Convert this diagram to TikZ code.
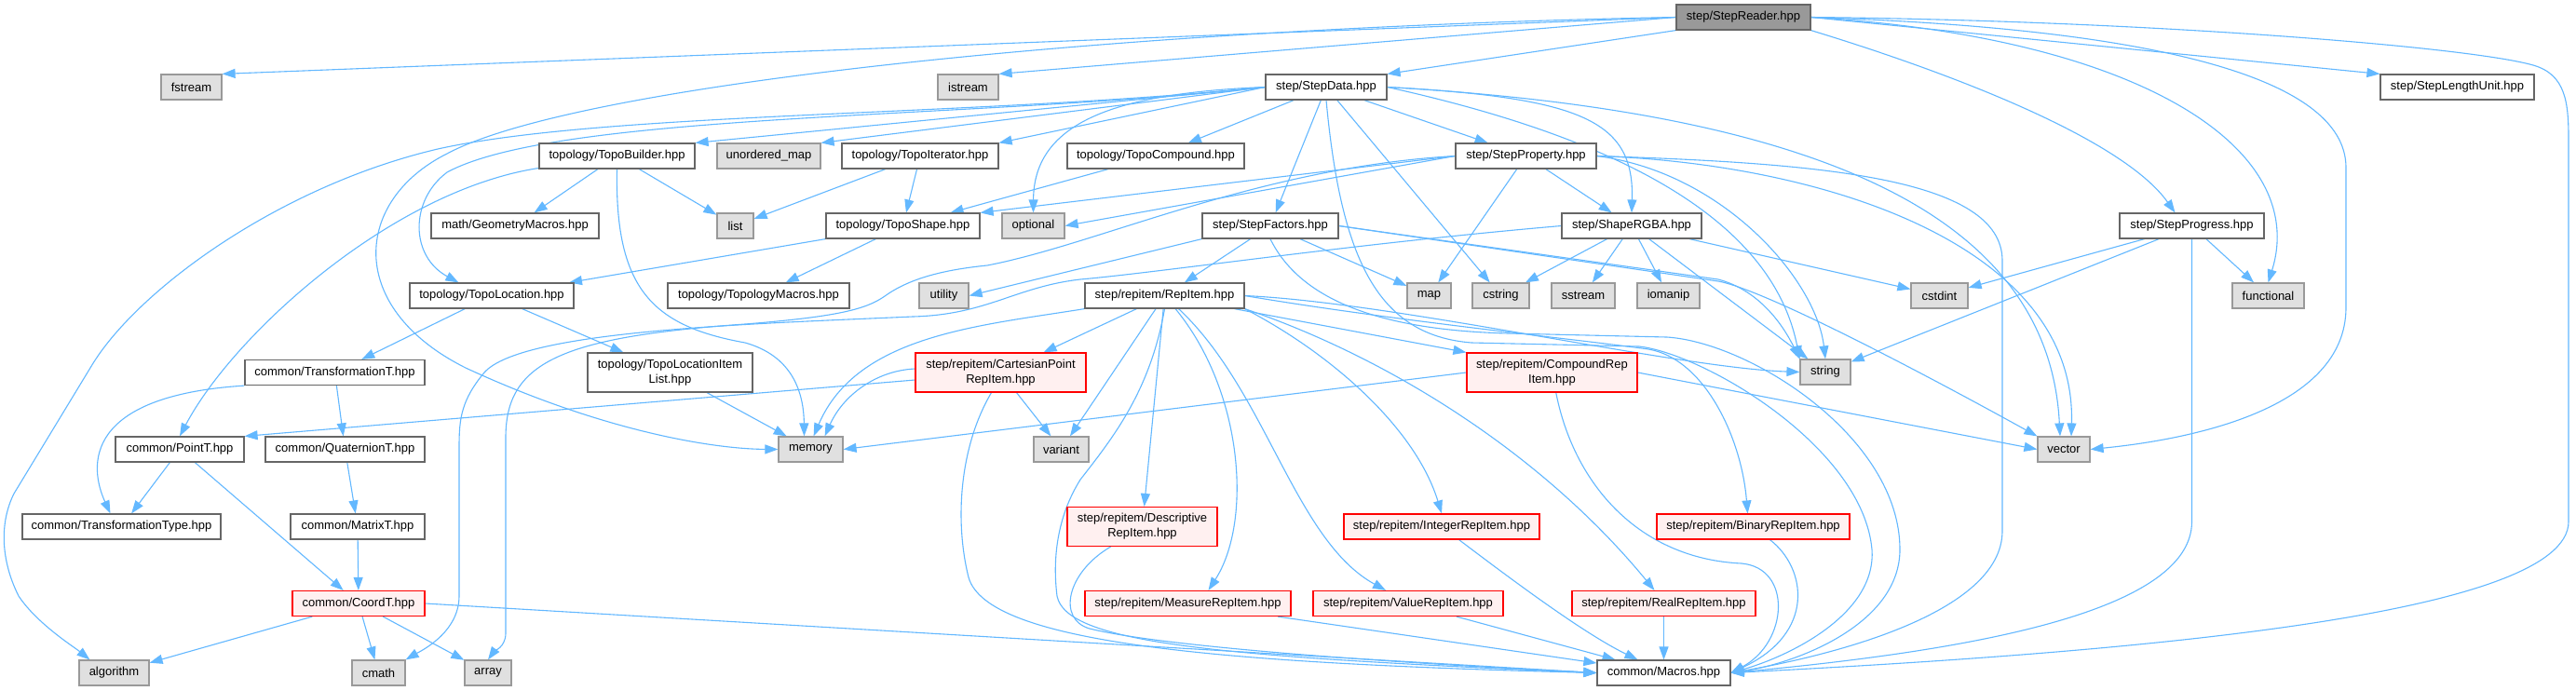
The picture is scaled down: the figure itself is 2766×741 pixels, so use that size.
\documentclass[tikz,border=0pt]{standalone}
\usepackage{fontspec}
\setmainfont{Liberation Sans}
\usetikzlibrary{arrows.meta,backgrounds}
\definecolor{edgec}{HTML}{63B8FF}
\definecolor{gfill}{HTML}{E0E0E0}
\definecolor{gborder}{HTML}{999999}
\definecolor{wborder}{HTML}{666666}
\definecolor{rfill}{HTML}{FFF0F0}
\definecolor{rootfill}{HTML}{999999}
\begin{document}
\begin{tikzpicture}[x=0.5pt,y=-0.5pt,
  gbox/.style={draw,rectangle,inner sep=0pt,minimum height=13.5pt,line width=0.6pt,align=center,font=\fontsize{6.5}{8}\selectfont},
  plainbox/.style={gbox,draw=wborder,fill=white},
  sysbox/.style={gbox,draw=gborder,fill=gfill},
  redbox/.style={gbox,draw=red,fill=rfill},
  rootbox/.style={gbox,draw=wborder,fill=rootfill},
  tall/.style={minimum height=21pt},
  lnk/.style={draw=edgec,line width=0.55pt,-{Triangle[length=7pt,width=5pt]}}
]
\useasboundingbox (0,0) rectangle (2766,741);
% nodes
\node[rootbox,minimum width=72pt] (root) at (1872,18.5) {step/StepReader.hpp};
\node[sysbox,minimum width=32.5pt] (fstream) at (205.5,93.5) {fstream};
\node[sysbox,minimum width=32.5pt] (istream) at (1039.5,93.5) {istream};
\node[plainbox,minimum width=65pt] (sdata) at (1424,93.5) {step/StepData.hpp};
\node[plainbox,minimum width=82.5pt] (slu) at (2638.5,93.5) {step/StepLengthUnit.hpp};
\node[plainbox,minimum width=83.5pt] (tbuild) at (662.5,167.5) {topology/TopoBuilder.hpp};
\node[sysbox,minimum width=55.5pt] (umap) at (825.5,167.5) {unordered\_map};
\node[plainbox,minimum width=84pt] (titer) at (988,167.5) {topology/TopoIterator.hpp};
\node[plainbox,minimum width=95pt] (tcomp) at (1241,167.5) {topology/TopoCompound.hpp};
\node[plainbox,minimum width=75.5pt] (sprop) at (1638.5,167.5) {step/StepProperty.hpp};
\node[plainbox,minimum width=90pt] (geom) at (553,242.5) {math/GeometryMacros.hpp};
\node[sysbox,minimum width=19.5pt] (list) at (789.5,242.5) {list};
\node[plainbox,minimum width=82.5pt] (tshape) at (969.5,242.5) {topology/TopoShape.hpp};
\node[sysbox,minimum width=33.5pt] (optional) at (1109.5,242.5) {optional};
\node[plainbox,minimum width=73pt] (sfact) at (1364,242.5) {step/StepFactors.hpp};
\node[plainbox,minimum width=75pt] (rgba) at (1752,242.5) {step/ShapeRGBA.hpp};
\node[plainbox,minimum width=77.5pt] (sprog) at (2353.5,242.5) {step/StepProgress.hpp};
\node[plainbox,minimum width=88pt] (tloc) at (528,317.5) {topology/TopoLocation.hpp};
\node[plainbox,minimum width=97.5pt] (tmacros) at (814.5,317.5) {topology/TopologyMacros.hpp};
\node[sysbox,minimum width=26.5pt] (utility) at (1013.5,317.5) {utility};
\node[plainbox,minimum width=85.5pt] (repitem) at (1250.5,317.5) {step/repitem/RepItem.hpp};
\node[sysbox,minimum width=23.5pt] (map) at (1534.5,317.5) {map};
\node[sysbox,minimum width=30.5pt] (cstring) at (1611.5,317.5) {cstring};
\node[sysbox,minimum width=34pt] (sstream) at (1700,317.5) {sstream};
\node[sysbox,minimum width=33.5pt] (iomanip) at (1791.5,317.5) {iomanip};
\node[sysbox,minimum width=30.5pt] (cstdint) at (2082.5,317.5) {cstdint};
\node[sysbox,minimum width=38.5pt] (functional) at (2435.5,317.5) {functional};
\node[plainbox,minimum width=96.5pt] (transT) at (359.5,400) {common/TransformationT.hpp};
\node[plainbox,tall,minimum width=88.5pt] (tlil) at (719.5,400) {topology/TopoLocationItem\\List.hpp};
\node[redbox,tall,minimum width=91.5pt] (cart) at (1074.5,400) {step/repitem/CartesianPoint\\RepItem.hpp};
\node[redbox,tall,minimum width=91.5pt] (cpd) at (1666.5,400) {step/repitem/CompoundRep\\Item.hpp};
\node[sysbox,minimum width=27pt] (string) at (1960,399.5) {string};
\node[plainbox,minimum width=69pt] (pointT) at (193,482.5) {common/PointT.hpp};
\node[plainbox,minimum width=85.5pt] (quatT) at (370.5,482.5) {common/QuaternionT.hpp};
\node[sysbox,minimum width=34.5pt] (memory) at (870.5,482.5) {memory};
\node[sysbox,minimum width=29.5pt] (variant) at (1139.5,482.5) {variant};
\node[sysbox,minimum width=28pt] (vector) at (2216,482.5) {vector};
\node[plainbox,minimum width=106.5pt] (transType) at (130.5,565.5) {common/TransformationType.hpp};
\node[plainbox,minimum width=72pt] (matrixT) at (384,565.5) {common/MatrixT.hpp};
\node[redbox,tall,minimum width=80.5pt] (desc) at (1226.5,565.5) {step/repitem/Descriptive\\RepItem.hpp};
\node[redbox,minimum width=105pt] (integer) at (1548,565.5) {step/repitem/IntegerRepItem.hpp};
\node[redbox,minimum width=103.5pt] (binary) at (1882.5,565.5) {step/repitem/BinaryRepItem.hpp};
\node[redbox,minimum width=71pt] (coordT) at (385,648) {common/CoordT.hpp};
\node[redbox,minimum width=110.5pt] (measure) at (1275.5,648) {step/repitem/MeasureRepItem.hpp};
\node[redbox,minimum width=102pt] (value) at (1512,648) {step/repitem/ValueRepItem.hpp};
\node[redbox,minimum width=98.5pt] (real) at (1786.5,648) {step/repitem/RealRepItem.hpp};
\node[sysbox,minimum width=37.5pt] (algorithm) at (122.5,722.5) {algorithm};
\node[sysbox,minimum width=28.5pt] (cmath) at (406.5,722.5) {cmath};
\node[sysbox,minimum width=25pt] (array) at (524,722.5) {array};
\node[plainbox,minimum width=71.5pt] (macros) at (1786.5,722.5) {common/Macros.hpp};

\begin{pgfonlayer}{background}
\fill[white] (0,0) rectangle (2766,741);
% root
\draw[lnk] (root.west) -- (fstream.north east);
\draw[lnk] (root.west) -- (istream.north east);
\draw[lnk] (root.south west) -- (sdata.north east);
\draw[lnk] (root.east) -- (slu.north west);
\draw[lnk] (root.south east) .. controls (2100,80) and (2280,150) .. ([xshift=-9pt]sprog.north);
\draw[lnk] (root.east) .. controls (2300,40) and (2480,160) .. (functional.north);
\draw[lnk] (root.east) .. controls (2300,30) and (2519,80) .. (2519,180) -- (2519,330) .. controls (2519,440) and (2350,472) .. (vector.east);
\draw[lnk] (root.east) .. controls (2300,22) and (2650,50) .. (2720,70) .. controls (2755,80) and (2758,110) .. (2758,150) -- (2758,560) .. controls (2758,660) and (2300,700) .. (macros.east);
\draw[lnk] (root.west) .. controls (1200,30) and (620,90) .. (480,165) .. controls (380,215) and (370,330) .. (500,395) .. controls (640,460) and (760,482) .. (memory.west);
% StepData
\draw[lnk] (sdata.west) -- (tbuild.north east);
\draw[lnk] (sdata.west) -- (umap.north east);
\draw[lnk] (sdata.west) -- (titer.north east);
\draw[lnk] (sdata) -- (tcomp);
\draw[lnk] (sdata.west) .. controls (1200,100) and (1110,130) .. (optional.north);
\draw[lnk] (sdata.west) .. controls (1050,128) and (600,120) .. (480,185) .. controls (440,215) and (440,275) .. ([xshift=26.5pt]tloc.north west);
\draw[lnk] (sdata.west) .. controls (1050,125) and (650,120) .. (470,160) .. controls (300,200) and (150,310) .. (100,390) -- (15,530) .. controls (0,560) and (0,600) .. (20,640) .. controls (40,670) and (80,695) .. ([xshift=6pt]algorithm.north west);
\draw[lnk] (sdata) -- (sprop);
\draw[lnk] (sdata.east) .. controls (1700,105) and (1755,130) .. (rgba.north);
\draw[lnk] (sdata) -- (sfact);
\draw[lnk] (sdata) -- (cstring);
\draw[lnk] (sdata.east) .. controls (1700,140) and (1900,220) .. (string.north west);
\draw[lnk] (sdata.east) .. controls (1950,120) and (2200,230) .. ([xshift=-2pt]vector.north);
\draw[lnk] (sdata.south) .. controls (1440,280) and (1480,360) .. (1580,368) -- (1760,372) .. controls (1830,380) and (2000,480) .. (2010,590) .. controls (2015,660) and (1920,705) .. (macros.east);
% StepProperty
\draw[lnk] (sprop.west) -- (tshape.north east);
\draw[lnk] (sprop.west) -- (optional.east);
\draw[lnk] (sprop) -- (map);
\draw[lnk] (sprop) -- (rgba);
\draw[lnk] (sprop.east) .. controls (1850,185) and (1950,300) .. (string.north);
\draw[lnk] (sprop.east) .. controls (1950,175) and (2230,260) .. ([xshift=4pt]vector.north);
\draw[lnk] (sprop.east) .. controls (1950,175) and (2150,190) .. (2150,280) -- (2150,570) .. controls (2150,660) and (1960,705) .. (macros.east);
\draw[lnk] (sprop.west) .. controls (1350,180) and (1180,262) .. (1060,285) .. controls (1010,290) and (975,300) .. (950,318) .. controls (930,332) and (900,340) .. (800,348) .. controls (600,362) and (543,390) .. (543,470) -- (543,680) .. controls (543,695) and (530,700) .. (array.north);
% ShapeRGBA
\draw[lnk] (rgba) -- (cstring);
\draw[lnk] (rgba) -- (sstream);
\draw[lnk] (rgba) -- (iomanip);
\draw[lnk] (rgba) -- (cstdint);
\draw[lnk] (rgba) -- (string);
\draw[lnk] (rgba.west) .. controls (1450,262) and (1250,292) .. (1160,300) .. controls (1090,308) and (1060,338) .. (980,340) .. controls (800,348) and (560,355) .. (520,400) .. controls (495,430) and (493,450) .. (493,480) -- (493,640) .. controls (493,680) and (450,700) .. (cmath.north east);
% StepFactors
\draw[lnk] (sfact) -- (repitem);
\draw[lnk] (sfact.south west) -- (utility.east);
\draw[lnk] (sfact) -- (map);
\draw[lnk] (sfact.east) -- (1845,300) .. controls (1890,312) and (1915,350) .. (string.north west);
\draw[lnk] (sfact.east) -- (1845,302) .. controls (1900,312) and (2100,420) .. (vector.north west);
\draw[lnk] (sfact.south) .. controls (1400,330) and (1500,355) .. (1620,358) -- (1790,362) .. controls (1880,368) and (2040,470) .. (2040,590) .. controls (2040,670) and (1930,712) .. (macros.east);
% RepItem
\draw[lnk] (repitem) -- (cart);
\draw[lnk] (repitem) -- (variant);
\draw[lnk] (repitem.south west) .. controls (1050,350) and (920,360) .. ([xshift=-16pt]memory.north east);
\draw[lnk] (repitem) -- (desc);
\draw[lnk] (repitem) .. controls (1335,420) and (1345,560) .. ([xshift=11pt]measure.north);
\draw[lnk] (repitem) .. controls (1360,420) and (1390,580) .. ([xshift=-12pt]value.north);
\draw[lnk] (repitem.south east) .. controls (1430,380) and (1520,460) .. (integer.north);
\draw[lnk] (repitem.south east) .. controls (1480,380) and (1650,480) .. ([xshift=-5pt]real.north);
\draw[lnk] (repitem.east) .. controls (1500,345) and (1700,365) .. (1770,375) .. controls (1830,385) and (1870,470) .. ([xshift=-3pt]binary.north);
\draw[lnk] (repitem) -- (cpd.north west);
\draw[lnk] (repitem.east) .. controls (1500,325) and (1800,395) .. (string.west);
\draw[lnk] (repitem.south) .. controls (1235,420) and (1195,470) .. (1160,515) .. controls (1135,555) and (1130,600) .. (1135,640) .. controls (1145,690) and (1300,705) .. (macros.west);
% CartesianPoint
\draw[lnk] ([yshift=-4pt]cart.west) -- (pointT.north east);
\draw[lnk] ([yshift=2pt]cart.west) .. controls (940,398) and (905,425) .. ([xshift=-10pt]memory.north east);
\draw[lnk] (cart) -- (variant);
\draw[lnk] ([xshift=-5pt]cart.south) .. controls (1030,480) and (1025,560) .. (1040,620) .. controls (1060,690) and (1300,712) .. (macros.west);
% CompoundRep
\draw[lnk] (cpd.west) -- (memory.east);
\draw[lnk] (cpd.east) -- (vector.west);
\draw[lnk] (cpd) .. controls (1690,520) and (1760,600) .. (1870,605) .. controls (1925,610) and (1920,690) .. (macros.east);
% leaves of repitem
\draw[lnk] ([xshift=-17pt]desc.south) .. controls (1145,615) and (1135,665) .. (1170,675) .. controls (1250,695) and (1500,712) .. (macros.west);
\draw[lnk] (measure) -- (macros);
\draw[lnk] (value) -- (macros);
\draw[lnk] (integer) .. controls (1620,620) and (1700,680) .. ([xshift=-14pt]macros.north);
\draw[lnk] (real) -- (macros);
\draw[lnk] ([xshift=9pt]binary.south) .. controls (1940,610) and (1950,680) .. (macros.east);
% topology
\draw[lnk] (tbuild) -- (geom);
\draw[lnk] (tbuild) -- (list);
\draw[lnk] (tbuild.south) .. controls (660,310) and (700,350) .. (800,368) .. controls (850,382) and (863,420) .. ([xshift=-3.5pt]memory.north);
\draw[lnk] (tbuild) .. controls (420,205) and (250,360) .. (pointT.north);
\draw[lnk] (titer) -- (tshape);
\draw[lnk] (titer) -- (list);
\draw[lnk] (tcomp) -- (tshape);
\draw[lnk] (tshape) -- (tloc);
\draw[lnk] (tshape) -- (tmacros);
\draw[lnk] (tloc) -- (transT);
\draw[lnk] (tloc) -- (tlil);
\draw[lnk] (tlil) -- (memory);
% common
\draw[lnk] (transT) -- (quatT);
\draw[lnk] (transT.south west) .. controls (90,425) and (95,500) .. ([xshift=-6pt]transType.north);
\draw[lnk] (pointT) -- (transType);
\draw[lnk] (pointT) -- (coordT);
\draw[lnk] (quatT) -- (matrixT);
\draw[lnk] (matrixT) -- (coordT);
\draw[lnk] (coordT) -- (algorithm);
\draw[lnk] (coordT) -- (cmath);
\draw[lnk] (coordT) -- (array);
\draw[lnk] (coordT.east) -- (macros.west);
% StepProgress
\draw[lnk] (sprog) -- (cstdint);
\draw[lnk] (sprog) -- (string);
\draw[lnk] (sprog) -- (functional);
\draw[lnk] (sprog.south) -- (2353.5,560) .. controls (2353.5,660) and (2100,700) .. (macros.east);
\end{pgfonlayer}
\end{tikzpicture}
\end{document}
